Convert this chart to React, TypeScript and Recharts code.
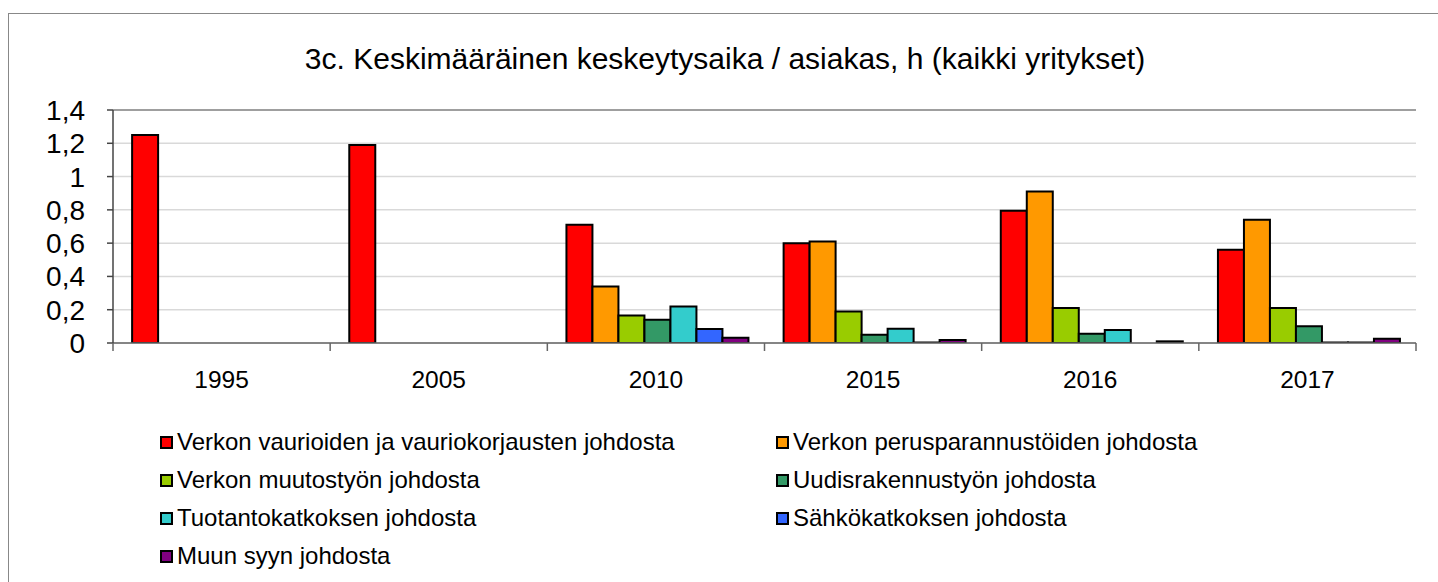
import React from 'react';
import { BarChart, Bar, XAxis, YAxis, CartesianGrid, ReferenceLine } from 'recharts';

const categories = ['1995', '2005', '2010', '2015', '2016', '2017'];
const vaurio = [1.25, 1.19, 0.71, 0.6, 0.795, 0.56];
const perus = [null, null, 0.34, 0.61, 0.91, 0.74];
const muutos = [null, null, 0.165, 0.19, 0.21, 0.21];
const uudis = [null, null, 0.14, 0.05, 0.055, 0.1];
const tuotanto = [null, null, 0.22, 0.085, 0.078, 0.003];
const sahko = [null, null, 0.084, 0.003, null, 0.003];
const muu = [null, null, 0.032, 0.018, 0.01, 0.025];
const yTicks = [0, 0.2, 0.4, 0.6, 0.8, 1, 1.2, 1.4];

const seriesNames = [
  'Verkon vaurioiden ja vauriokorjausten johdosta',
  'Verkon perusparannustöiden johdosta',
  'Verkon muutostyön johdosta',
  'Uudisrakennustyön johdosta',
  'Tuotantokatkoksen johdosta',
  'Sähkökatkoksen johdosta',
  'Muun syyn johdosta',
];
const seriesColors = ['#FF0000', '#FF9900', '#99CC00', '#339966', '#33CCCC', '#3366FF', '#800080'];
const seriesValues = [vaurio, perus, muutos, uudis, tuotanto, sahko, muu];
const seriesKeys = ['s0', 's1', 's2', 's3', 's4', 's5', 's6'];

const data = categories.map((c, i) => {
  const row: Record<string, any> = { cat: c };
  seriesKeys.forEach((k, j) => {
    row[k] = seriesValues[j][i];
  });
  return row;
});

const FONT = '"Liberation Sans", Arial, sans-serif';

const CatTick = (props: any) => {
  const { x, y, payload, index, visibleTicksCount } = props;
  const off = payload && payload.offset ? payload.offset : 108.6;
  const last = index === (visibleTicksCount ? visibleTicksCount - 1 : categories.length - 1);
  return (
    <g>
      <line x1={x - off} x2={x - off} y1={y - 8} y2={y} stroke="#666" strokeWidth={1.5} />
      {last && <line x1={x + off} x2={x + off} y1={y - 8} y2={y} stroke="#666" strokeWidth={1.5} />}
      <text x={x} y={y + 37} textAnchor="middle" fontSize={24.5} fontFamily={FONT} fill="#000">
        {payload.value}
      </text>
    </g>
  );
};

const fmt = (v: number) => String(Math.round(v * 10) / 10).replace('.', ',');

export default function App() {
  return (
    <div style={{ position: 'fixed', left: 0, top: 0, width: 1438, height: 582, overflow: 'hidden', background: '#fff', fontFamily: FONT }}>
      <div style={{ position: 'absolute', left: 8, top: 13, width: 1460, height: 620, border: '1.5px solid #888', boxSizing: 'border-box' }} />
      <div style={{ position: 'absolute', left: 0, top: 44, width: 1450, textAlign: 'center', fontSize: 30, lineHeight: '30px', color: '#000', whiteSpace: 'nowrap' }}>
        3c. Keskimääräinen keskeytysaika / asiakas, h (kaikki yritykset)
      </div>
      <div style={{ position: 'absolute', left: 0, top: 0 }}>
        <BarChart
          width={1438}
          height={582}
          data={data}
          margin={{ top: 110, right: 22, left: 33, bottom: 199 }}
          barCategoryGap="8.8%"
          barGap={0}
        >
          <CartesianGrid vertical={false} stroke="#d9d9d9" strokeWidth={1.5} />
          <XAxis
            dataKey="cat"
            interval={0}
            height={40}
            tickSize={8}
            tickMargin={0}
            tickLine={false}
            tick={<CatTick />}
            axisLine={{ stroke: '#666', strokeWidth: 1.5 }}
          />
          <YAxis
            domain={[0, 1.4]}
            ticks={yTicks}
            interval={0}
            width={80}
            tickSize={6}
            tickMargin={22}
            tickFormatter={fmt}
            tick={{ fontSize: 28, fontFamily: FONT, fill: '#000' }}
            tickLine={{ stroke: '#444', strokeWidth: 1.5 }}
            axisLine={{ stroke: '#444', strokeWidth: 1.5 }}
            allowDataOverflow
          />
          <YAxis
            yAxisId="right"
            orientation="right"
            width={0}
            domain={[0, 1.4]}
            tick={false}
            tickLine={false}
            axisLine={{ stroke: '#888', strokeWidth: 1.5 }}
          />
          <ReferenceLine y={1.4} stroke="#888" strokeWidth={1.5} />
          {seriesKeys.map((k, j) => (
            <Bar
              key={k}
              dataKey={k}
              name={seriesNames[j]}
              fill={seriesColors[j]}
              stroke="#000"
              strokeWidth={2}
              isAnimationActive={false}
            />
          ))}
        </BarChart>
      </div>
      {seriesNames.map((n, j) => {
        const col = j % 2;
        const row = Math.floor(j / 2);
        const left = col === 0 ? 160 : 776;
        const cy = 442 + row * 38;
        return (
          <div
            key={n}
            style={{ position: 'absolute', left, top: cy - 14, height: 28, display: 'flex', alignItems: 'center', whiteSpace: 'nowrap', fontSize: 24, color: '#000' }}
          >
            <span style={{ display: 'inline-block', width: 13, height: 13, boxSizing: 'border-box', border: '2px solid #000', background: seriesColors[j], marginRight: 4 }} />
            <span>{n}</span>
          </div>
        );
      })}
    </div>
  );
}
